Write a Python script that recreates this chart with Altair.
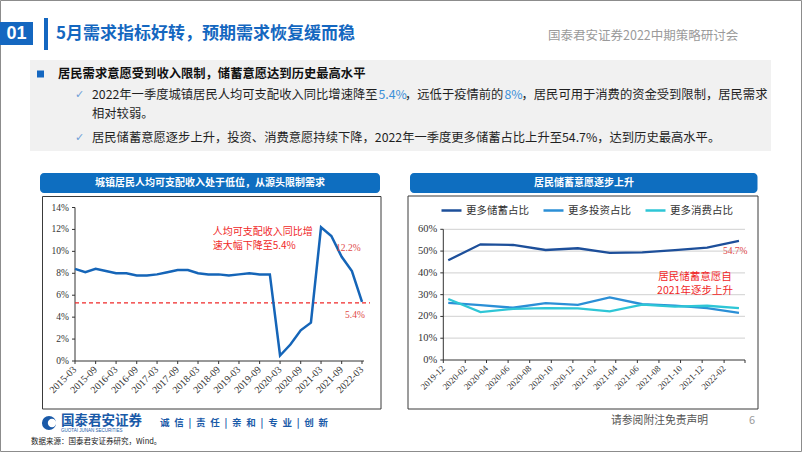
import altair as alt
import pandas as pd

# ---------------- data: left chart (城镇居民人均可支配收入累计同比, %) ----------------
inc_quarters = ["2015-03", "2015-06", "2015-09", "2015-12", "2016-03", "2016-06", "2016-09", "2016-12",
                "2017-03", "2017-06", "2017-09", "2017-12", "2018-03", "2018-06", "2018-09", "2018-12",
                "2019-03", "2019-06", "2019-09", "2019-12", "2020-03", "2020-06", "2020-09", "2020-12",
                "2021-03", "2021-06", "2021-09", "2021-12", "2022-03"]
inc_values = [8.4, 8.1, 8.4, 8.2, 8.0, 8.0, 7.8, 7.8,
              7.9, 8.1, 8.3, 8.3, 8.0, 7.9, 7.9, 7.8,
              7.9, 8.0, 7.9, 7.9, 0.5, 1.5, 2.8, 3.5,
              12.2, 11.4, 9.5, 8.2, 5.4]
inc_tick_labels = ["2015-03", "2015-09", "2016-03", "2016-09", "2017-03", "2017-09", "2018-03", "2018-09",
                   "2019-03", "2019-09", "2020-03", "2020-09", "2021-03", "2021-09", "2022-03"]
inc_y_ticks = [0, 2, 4, 6, 8, 10, 12, 14]
inc_reference = 5.3
inc_marked = ["2021-03", "2022-03"]

# ---------------- data: right chart (城镇储户问卷, %) ----------------
sv_dates = ["2019-12-15", "2020-03-15", "2020-06-15", "2020-09-15", "2020-12-15",
            "2021-03-15", "2021-06-15", "2021-09-15", "2021-12-15", "2022-03-15"]
sv_names = ["更多储蓄占比", "更多投资占比", "更多消费占比"]
sv_savings = [45.8, 53.1, 52.8, 50.5, 51.3, 49.2, 49.4, 50.4, 51.6, 54.7]
sv_invest = [26.2, 25.2, 24.0, 26.1, 25.3, 28.7, 25.6, 25.0, 23.8, 21.6]
sv_consume = [28.0, 22.0, 23.5, 23.8, 23.7, 22.3, 25.4, 24.5, 24.9, 23.8]
sv_tick_months = ["2019-12", "2020-02", "2020-04", "2020-06", "2020-08", "2020-10", "2020-12",
                  "2021-02", "2021-04", "2021-06", "2021-08", "2021-10", "2021-12", "2022-02"]
sv_domain = ["2019-12", "2022-04"]
sv_y_ticks = [0, 10, 20, 30, 40, 50, 60]
sv_grid = [10, 20, 30, 40, 50, 60]

CJK = "Noto Sans CJK SC"
SERIF = "Liberation Serif"
BLUE = "#1467c0"
RED = "#f02828"
AX = "#333333"

one = pd.DataFrame({"k": [0]})


def box(x, x2, y, y2, **kw):
    return alt.Chart(one).mark_rect(**kw).encode(
        x=alt.value(x), x2=alt.value(x2), y=alt.value(y), y2=alt.value(y2))


def txt(s, x, y, size=12.3, color="#1f1f1f", weight="normal", align="left", font=CJK):
    return alt.Chart(one).mark_text(text=s, fontSize=size, color=color, fontWeight=weight,
                                    align=align, baseline="middle", font=font).encode(
        x=alt.value(x), y=alt.value(y))


def dt(s):
    y, m = s.split("-")[:2]
    return alt.DateTime(year=int(y), month=int(m), date=1, utc=True)


def axes(xs, ys, x_ticks, x_labels, y_ticks, x0, x_end, y0, xsize, ysize):
    """Axis lines, ticks and labels drawn through the chart's own scales."""
    ydf = pd.DataFrame({"v": y_ticks, "lab": [f"{v}%" for v in y_ticks]})
    xdf = pd.DataFrame({"t": x_ticks})
    xldf = pd.DataFrame({"t": x_labels, "lab": x_labels})
    return [
        alt.Chart(one).mark_rule(color=AX, strokeWidth=1).encode(
            x=alt.value(x0), y=alt.Y(datum=y_ticks[0], type="quantitative", scale=ys, axis=None),
            y2=alt.Y2(datum=y_ticks[-1])),
        alt.Chart(one).mark_rule(color=AX, strokeWidth=1).encode(
            y=alt.Y(datum=y_ticks[0], type="quantitative", scale=ys, axis=None),
            x=alt.value(x0), x2=alt.value(x_end)),
        alt.Chart(ydf).mark_rule(color=AX, strokeWidth=1).encode(
            y=alt.Y("v:Q", scale=ys, axis=None), x=alt.value(x0 - 3), x2=alt.value(x0)),
        alt.Chart(ydf).mark_text(align="right", baseline="middle", font=SERIF, fontSize=ysize, color=AX).encode(
            y=alt.Y("v:Q", scale=ys, axis=None), x=alt.value(x0 - 6), text="lab:N"),
        alt.Chart(xdf).mark_rule(color=AX, strokeWidth=1).encode(
            x=alt.X("t:T", scale=xs, axis=None), y=alt.value(y0), y2=alt.value(y0 + 3)),
        alt.Chart(xldf).mark_text(angle=315, align="right", baseline="middle", font=SERIF, fontSize=xsize,
                                  color=AX).encode(
            x=alt.X("t:T", scale=xs, axis=None), y=alt.value(y0 + 7), text="lab:N"),
    ]


# ---------------- left chart ----------------
inc_df = pd.DataFrame({"quarter": inc_quarters, "value": inc_values})
lx = alt.Scale(type="utc", domain=[dt(inc_quarters[0]), dt(inc_quarters[-1])], range=[75, 362])
ly = alt.Scale(domain=[0, 14], range=[361, 207.5], nice=False)

left_line = alt.Chart(inc_df).mark_line(color="#1565b8", strokeWidth=2.5).encode(
    x=alt.X("quarter:T", scale=lx, axis=None),
    y=alt.Y("value:Q", scale=ly, axis=None))

left_ref = alt.Chart(one).mark_rule(color=RED, strokeDash=[4, 3], strokeWidth=1.3).encode(
    x=alt.X(datum=dt(inc_quarters[0]), type="temporal", scale=lx, axis=None),
    x2=alt.value(370),
    y=alt.Y(datum=inc_reference, type="quantitative", scale=ly, axis=None))


def inc_label(q, dx, dy, align):
    return alt.Chart(inc_df).transform_filter(
        f"utcFormat(toDate(datum.quarter), '%Y-%m') == '{q}'").transform_calculate(
        lab="format(datum.value, '.1f') + '%'").mark_text(
        dx=dx, dy=dy, align=align, baseline="middle", font=SERIF, fontSize=9.5, color="#e04848").encode(
        x=alt.X("quarter:T", scale=lx, axis=None), y=alt.Y("value:Q", scale=ly, axis=None), text="lab:N")


left_layer = alt.layer(
    *axes(lx, ly, inc_tick_labels, inc_tick_labels, inc_y_ticks, 75, 364, 361, 10, 9.5),
    left_ref, left_line,
    inc_label(inc_marked[0], 15, 21, "left"),
    inc_label(inc_marked[1], -7, 13, "center"))

# ---------------- right chart ----------------
sv_df = pd.DataFrame({
    "date": sv_dates * 3,
    "series": [sv_names[0]] * len(sv_dates) + [sv_names[1]] * len(sv_dates) + [sv_names[2]] * len(sv_dates),
    "value": sv_savings + sv_invest + sv_consume,
})
rx = alt.Scale(type="utc", domain=[dt(sv_domain[0]), dt(sv_domain[1])], range=[443.3, 745])
ry = alt.Scale(domain=[0, 60], range=[360, 229.3], nice=False)

grid = alt.Chart(pd.DataFrame({"g": sv_grid})).mark_rule(color="#d9d9d9", strokeWidth=1.3).encode(
    y=alt.Y("g:Q", scale=ry, axis=None),
    x=alt.X(datum=dt(sv_domain[0]), type="temporal", scale=rx, axis=None),
    x2=alt.X2(datum=dt(sv_domain[1])))

right_lines = alt.Chart(sv_df).mark_line(strokeWidth=2.3).encode(
    x=alt.X("date:T", scale=rx, axis=None),
    y=alt.Y("value:Q", scale=ry, axis=None),
    color=alt.Color("series:N", scale=alt.Scale(domain=sv_names, range=["#1d4f9a", "#2b8fd6", "#2ec6d6"]),
                    legend=alt.Legend(orient="none", legendX=440, legendY=199, direction="horizontal", title=None,
                                      symbolType="stroke", symbolStrokeWidth=2.5, symbolSize=400,
                                      labelFont=CJK, labelFontSize=10.5, labelColor="#333333",
                                      columnPadding=9, labelOffset=3, padding=0)))

right_label = alt.Chart(sv_df).transform_filter(
    f"datum.series == '{sv_names[0]}' && utcFormat(toDate(datum.date), '%Y-%m-%d') == '{sv_dates[-1]}'"
).transform_calculate(
    lab="format(datum.value, '.1f') + '%'").mark_text(
    dx=-16, dy=10, align="left", baseline="middle", font=SERIF, fontSize=9.5, color="#e04848").encode(
    x=alt.X("date:T", scale=rx, axis=None), y=alt.Y("value:Q", scale=ry, axis=None), text="lab:N")

right_layer = alt.layer(
    grid,
    *axes(rx, ry, sv_tick_months + [sv_domain[1]], sv_tick_months, sv_y_ticks, 443.3, 745, 360, 9, 10.5),
    right_lines, right_label)

# ---------------- slide decorations ----------------
back = [
    box(0.5, 801.5, 0.5, 451.5, fillOpacity=0, stroke="#8c8c8c", strokeWidth=1),
    box(0, 33, 22, 45, fill=BLUE),
    box(44, 48, 18, 50, fill=BLUE),
    box(30, 771, 60, 151, fill="#f1f1f1"),
    box(37, 44, 70.5, 77.5, fill=BLUE),
    box(42.5, 381, 196.5, 409, fillOpacity=0, stroke="#3a3a3a", strokeWidth=1),
    box(408, 758, 196, 409, fillOpacity=0, stroke="#3a3a3a", strokeWidth=1),
    box(40, 380, 173, 193, fill="#0e6ec0", cornerRadius=4),
    box(410, 757.5, 173, 193, fill="#0e6ec0", cornerRadius=4),
]

SEP = "\u2002|\u2002"
texts = [
    txt("01", 16.5, 34, size=18, color="white", weight="bold", align="center", font="Liberation Sans"),
    txt("5月需求指标好转，预期需求恢复缓而稳", 56, 34, size=17, color=BLUE, weight="bold"),
    txt("国泰君安证券2022中期策略研讨会", 548, 36, size=12.5, color="#9a9a9a"),
    txt("居民需求意愿受到收入限制，储蓄意愿达到历史最高水平", 58, 74, size=12.3, color="#111111", weight="bold"),
    txt("✓", 75, 95, size=11, color="#6f9fd8", font="DejaVu Sans"),
    txt("2022年一季度城镇居民人均可支配收入同比增速降至", 92, 95),
    txt("5.4%", 378.5, 95, color="#3a8fd8"),
    txt("，远低于疫情前的", 405, 95),
    txt("8%", 504.5, 95, color="#3a8fd8"),
    txt("，居民可用于消费的资金受到限制，居民需求", 521.5, 95),
    txt("相对较弱。", 92, 114),
    txt("✓", 75, 138, size=11, color="#6f9fd8", font="DejaVu Sans"),
    txt("居民储蓄意愿逐步上升，投资、消费意愿持续下降，2022年一季度更多储蓄占比上升至54.7%，达到历史最高水平。", 92, 138),
    txt("城镇居民人均可支配收入处于低位，从源头限制需求", 210, 183, size=10, color="white", weight="bold", align="center"),
    txt("居民储蓄意愿逐步上升", 584, 183, size=10, color="white", weight="bold", align="center"),
    txt("人均可支配收入同比增", 212.7, 232, size=10, color=RED),
    txt("速大幅下降至5.4%", 212.7, 245.5, size=10, color=RED),
    txt("居民储蓄意愿自", 695, 277, size=10.5, color=RED, align="center"),
    txt("2021年逐步上升", 695, 290.5, size=10.5, color=RED, align="center"),
    txt("国泰君安证券", 61, 421, size=13.5, color="#1a5aa8", weight="bold"),
    txt("GUOTAI JUNAN SECURITIES", 61, 431, size=4.5, color="#1a5aa8", font="Liberation Sans"),
    txt("诚\u2002信" + SEP + "责\u2002任" + SEP + "亲\u2002和" + SEP + "专\u2002业" + SEP + "创\u2002新",
        160, 423, size=9.5, color="#1a5aa8", weight="bold"),
    txt("请参阅附注免责声明", 611, 421, size=10.8, color="#555555"),
    txt("6", 749, 421, size=11, color="#9a9a9a"),
    txt("数据来源：国泰君安证券研究，Wind。", 31, 442, size=7.5, color="#222222"),
]

logo = [
    alt.Chart(one).mark_point(shape="circle", filled=True, size=200, color="#1a5aa8", opacity=1).encode(
        x=alt.value(49), y=alt.value(423)),
    alt.Chart(one).mark_point(shape="circle", filled=True, size=70, color="white", opacity=1).encode(
        x=alt.value(52), y=alt.value(423)),
]

chart = alt.layer(*back, left_layer, right_layer, *texts, *logo).resolve_scale(
    x="independent", y="independent", color="independent"
).properties(
    width=802, height=452, padding=0, autosize=alt.AutoSizeParams(type="none"), background="white"
).configure_view(strokeWidth=0)

chart.save("out.html", embed_options={"renderer": "svg", "actions": False})
